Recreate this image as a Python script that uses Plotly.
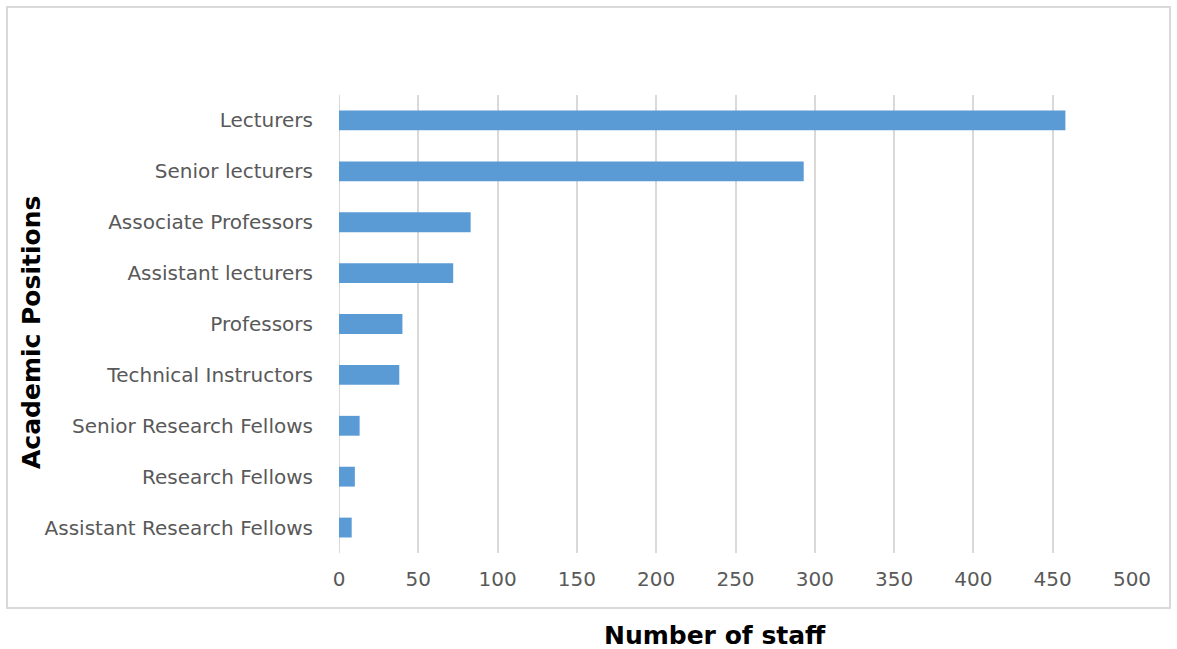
import plotly.graph_objects as go

# Academic staff by position (top to bottom as displayed)
positions = [
    "Lecturers",
    "Senior lecturers",
    "Associate Professors",
    "Assistant lecturers",
    "Professors",
    "Technical Instructors",
    "Senior Research Fellows",
    "Research Fellows",
    "Assistant Research Fellows",
]
staff_counts = [458, 293, 83, 72, 40, 38, 13, 10, 8]
x_ticks = [0, 50, 100, 150, 200, 250, 300, 350, 400, 450, 500]

W, H = 1177, 649
L, R, T, B = 339, 45, 95, 96
pw, ph = W - L - R, H - T - B

def px_x(x):
    return (x - L) / pw

def px_y(y):
    return (H - B - y) / ph

fig = go.Figure(
    go.Bar(
        x=staff_counts,
        y=positions,
        orientation="h",
        width=0.39,
        marker=dict(color="#5b9bd5", line=dict(width=0)),
    )
)

fig.update_layout(
    width=W,
    height=H,
    margin=dict(l=L, r=R, t=T, b=B),
    paper_bgcolor="white",
    plot_bgcolor="white",
    showlegend=False,
    font=dict(family="DejaVu Sans", color="#595959", size=20),
    xaxis=dict(
        range=[0, 500],
        tickvals=x_ticks,
        showgrid=True,
        gridcolor="#d9d9d9",
        gridwidth=2,
        zeroline=False,
        showline=False,
        ticks="",
        tickfont=dict(family="DejaVu Sans", size=20, color="#595959"),
        ticklabelstandoff=12,
    ),
    yaxis=dict(
        categoryorder="array",
        categoryarray=positions[::-1],
        showgrid=False,
        zeroline=False,
        showline=False,
        ticks="",
        ticklabelstandoff=25,
        tickfont=dict(family="DejaVu Sans", size=20, color="#595959"),
    ),
    shapes=[
        # outer chart frame
        dict(
            type="rect", xref="paper", yref="paper",
            x0=px_x(7), x1=px_x(1170), y0=px_y(608), y1=px_y(7),
            line=dict(color="#d9d9d9", width=2), fillcolor="rgba(0,0,0,0)",
            layer="below",
        ),
        # vertical category axis line at zero
        dict(
            type="line", xref="x", yref="paper",
            x0=0, x1=0, y0=0, y1=1,
            line=dict(color="#d9d9d9", width=2), layer="below",
        ),
    ],
    annotations=[
        dict(
            text="<b>Number of staff</b>", xref="paper", yref="paper",
            x=px_x(715), y=px_y(635), showarrow=False,
            font=dict(family="DejaVu Sans", size=25, color="black"),
            xanchor="center", yanchor="middle",
        ),
        dict(
            text="<b>Academic Positions</b>", xref="paper", yref="paper",
            x=px_x(31), y=px_y(333), showarrow=False, textangle=-90,
            font=dict(family="DejaVu Sans", size=25, color="black"),
            xanchor="center", yanchor="middle",
        ),
    ],
)

fig.write_html("out.html")
